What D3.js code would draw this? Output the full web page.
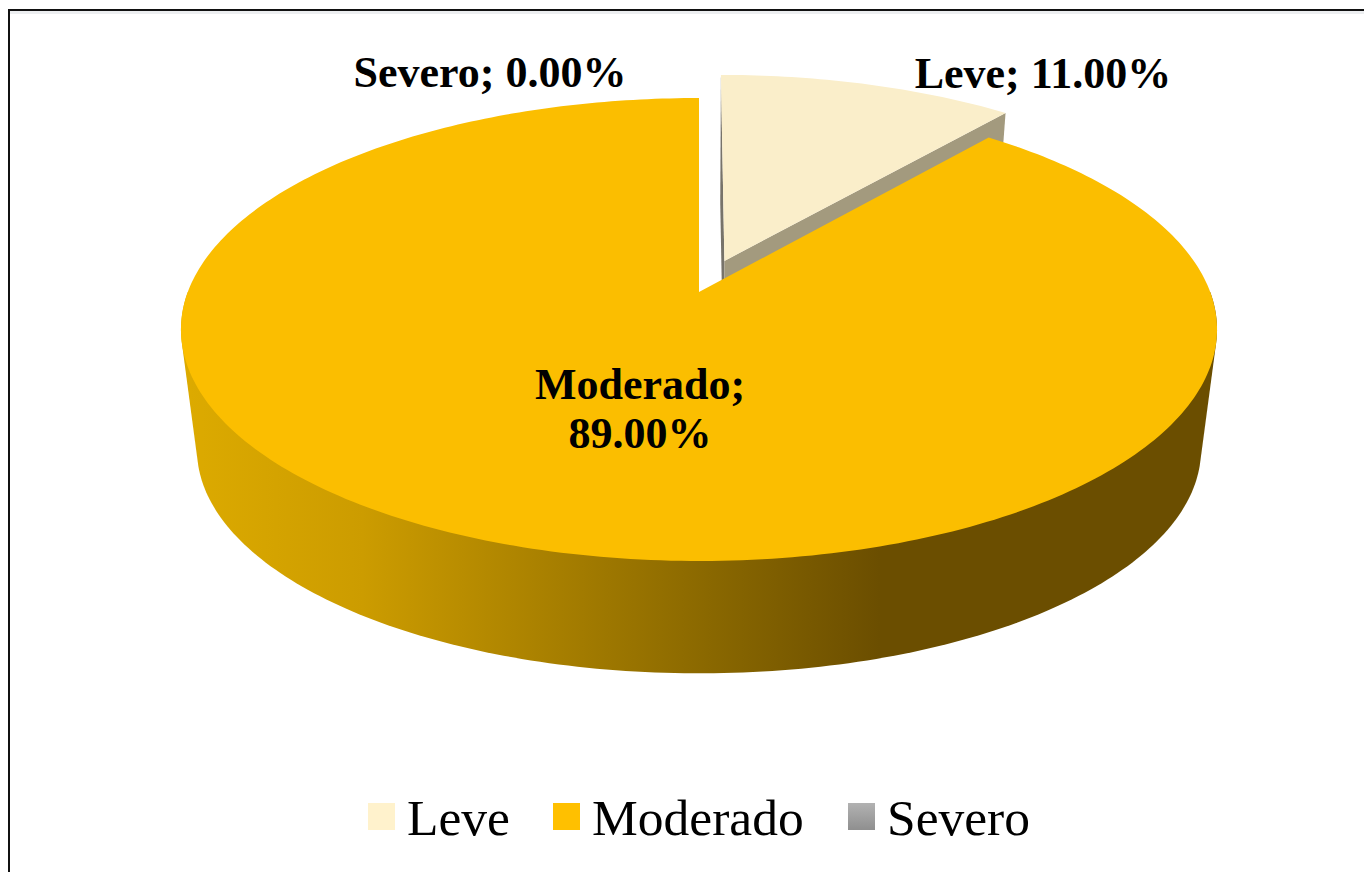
<!DOCTYPE html>
<html>
<head>
<meta charset="utf-8">
<script src="https://cdn.jsdelivr.net/npm/d3@7"></script>
<style>
  html, body { margin: 0; padding: 0; background: #fff; overflow: hidden; }
  text { font-family: "Liberation Serif", serif; fill: #000; }
  .label { font-weight: bold; font-size: 44px; }
  .legend { font-size: 51.5px; }
</style>
</head>
<body>
<svg id="chart" width="1364" height="872"></svg>
<script>
const categories = ["Leve", "Moderado", "Severo"];
const percents = [11, 89, 0];
const labelLines = [["Leve; 11.00%"], ["Moderado;", "89.00%"], ["Severo; 0.00%"]];
const topColors = ["#faeeca", "#fbbe00", "#a6a6a6"];
const legendColors = ["#fff2cc", "#ffc000", "#a6a6a6"];

const svg = d3.select("#chart");

const constants = {
  cx: 699,
  perspective: 0.162,
  top: { y0: 292, a: 225.4, b: 511.2 },
  bottom: { y0: 413.2, a: 218, b: 495.4 },
  explode: 0.15
};

// unit circle -> screen, the far side of the disc gets squeezed
function project(u, v, disc) {
  const w = 1 + constants.perspective * v;
  return [constants.cx + (disc.b * u) / w, disc.y0 - (disc.a * v) / w];
}

const slices = d3.pie().sort(null).value(d => d)(percents);

function rimPoints(s, disc, dx, dy) {
  const n = Math.max(2, Math.ceil((s.endAngle - s.startAngle) * 60));
  return d3.range(n + 1).map(i => {
    const t = s.startAngle + ((s.endAngle - s.startAngle) * i) / n;
    return project(Math.sin(t) + dx, Math.cos(t) + dy, disc);
  });
}

const line = d3.line().curve(d3.curveLinearClosed);

const defs = svg.append("defs");

const sideGrad = defs
  .append("linearGradient")
  .attr("id", "sideGrad")
  .attr("gradientUnits", "userSpaceOnUse")
  .attr("x1", 190)
  .attr("x2", 880)
  .attr("y1", 0)
  .attr("y2", 0);
sideGrad.append("stop").attr("offset", "0").attr("stop-color", "#dcaa00");
sideGrad.append("stop").attr("offset", "0.25").attr("stop-color", "#cc9c00");
sideGrad.append("stop").attr("offset", "0.75").attr("stop-color", "#8a6800");
sideGrad.append("stop").attr("offset", "1").attr("stop-color", "#6b4e00");

const swatchGrad = defs
  .append("linearGradient")
  .attr("id", "swatchGrad")
  .attr("x1", 0)
  .attr("x2", 0)
  .attr("y1", 0)
  .attr("y2", 1);
swatchGrad.append("stop").attr("offset", "0").attr("stop-color", "#b2b2b2");
swatchGrad.append("stop").attr("offset", "1").attr("stop-color", "#8f8f8f");

// frame, only the top and left edges show in the crop
svg
  .append("rect")
  .attr("x", 10)
  .attr("y", 11)
  .attr("width", 1354)
  .attr("height", 3)
  .attr("fill", "#eceef0");
svg
  .append("path")
  .attr("d", "M9,872V10H1364")
  .attr("fill", "none")
  .attr("stroke", "#111")
  .attr("stroke-width", 2);

// Leve, pulled out of the pie
const leve = slices[0];
const mid = (leve.startAngle + leve.endAngle) / 2;
const dx = constants.explode * Math.sin(mid);
const dy = constants.explode * Math.cos(mid);
const apexTop = project(dx, dy, constants.top);
const apexBottom = project(dx, dy, constants.bottom);
const leveTop = rimPoints(leve, constants.top, dx, dy);
const leveBottom = rimPoints(leve, constants.bottom, dx, dy);

svg
  .append("path")
  .attr("d", line([leveTop[0], apexTop, apexBottom, leveBottom[0]]))
  .attr("fill", "#77736a");
svg
  .append("path")
  .attr(
    "d",
    line([
      apexTop,
      leveTop[leveTop.length - 1],
      leveBottom[leveBottom.length - 1],
      apexBottom
    ])
  )
  .attr("fill", "#a39a7e");
svg
  .append("path")
  .attr("d", line([apexTop].concat(leveTop)))
  .attr("fill", topColors[0]);

// Moderado, wall first and then the top face
const moderado = slices[1];
const frontArc = { startAngle: Math.PI / 2, endAngle: (3 * Math.PI) / 2 };
const wall = d3.polygonHull(
  rimPoints(frontArc, constants.top, 0, 0).concat(
    rimPoints(frontArc, constants.bottom, 0, 0)
  )
);
svg
  .append("path")
  .attr("d", line(wall))
  .attr("fill", "url(#sideGrad)");
svg
  .append("path")
  .attr("d", line([project(0, 0, constants.top)].concat(rimPoints(moderado, constants.top, 0, 0))))
  .attr("fill", topColors[1]);

// data labels
const labelPos = [
  { x: 1043, y: 88 },
  { x: 640, y: 399 },
  { x: 490, y: 87 }
];
categories.forEach((c, i) => {
  labelLines[i].forEach((t, j) => {
    svg
      .append("text")
      .attr("class", "label")
      .attr("x", labelPos[i].x)
      .attr("y", labelPos[i].y + j * 49)
      .attr("text-anchor", "middle")
      .text(t);
  });
});

// legend
const legendX = d3.scaleOrdinal().domain(categories).range([368, 553, 848]);
const legend = svg
  .selectAll(".leg")
  .data(categories)
  .enter()
  .append("g")
  .attr("class", "leg")
  .attr("transform", d => "translate(" + legendX(d) + ",0)");
legend
  .append("rect")
  .attr("x", 0)
  .attr("y", 803)
  .attr("width", 27)
  .attr("height", 27)
  .attr("fill", (d, i) => (i == 2 ? "url(#swatchGrad)" : legendColors[i]));
legend
  .append("text")
  .attr("class", "legend")
  .attr("x", 39)
  .attr("y", 835)
  .text(d => d);
</script>
</body>
</html>
